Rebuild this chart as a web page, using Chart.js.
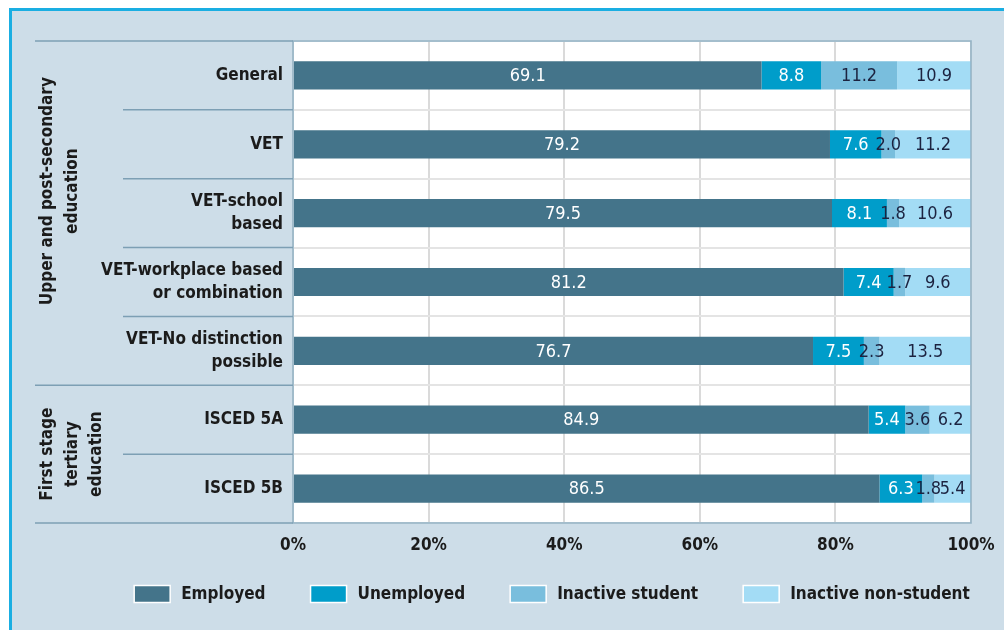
<!DOCTYPE html>
<html>
<head>
<meta charset="utf-8">
<script src="https://cdn.jsdelivr.net/npm/chart.js@4/dist/chart.umd.min.js"></script>
<style>
  html, body { margin: 0; padding: 0; background: #fff; }
  #wrap { position: relative; width: 1004px; height: 630px; overflow: hidden; }
  #frame { position: absolute; left: 9px; top: 8px; width: 1010px; height: 640px;
           background: #cddde8; border-left: 3px solid #1aaee2; border-top: 3px solid #1aaee2; }
  canvas { position: absolute; left: 0; top: 0; }
</style>
</head>
<body>
<div id="wrap">
  <div id="frame"></div>
  <canvas id="chart" width="1004" height="630"></canvas>
</div>
<script>
// data
const categories = [
  ['General'],
  ['VET'],
  ['VET-school', 'based'],
  ['VET-workplace based', 'or combination'],
  ['VET-No distinction', 'possible'],
  ['ISCED 5A'],
  ['ISCED 5B']
];
const groupLabels = [
  ['Upper and post-secondary', 'education'],
  ['First stage', 'tertiary', 'education']
];
const groupStart = [0, 5];
const groupEnd = [4, 6];

const seriesNames = ['Employed', 'Unemployed', 'Inactive student', 'Inactive non-student'];
const employed = [69.1, 79.2, 79.5, 81.2, 76.7, 84.9, 86.5];
const unemployed = [8.8, 7.6, 8.1, 7.4, 7.5, 5.4, 6.3];
const inactiveStudent = [11.2, 2.0, 1.8, 1.7, 2.3, 3.6, 1.8];
const inactiveNonStudent = [10.9, 11.2, 10.6, 9.6, 13.5, 6.2, 5.4];
const xTicks = [0, 20, 40, 60, 80, 100];

const colors = ['#44748a', '#009dca', '#79bedd', '#a3dcf5'];
const FONT = "'Liberation Sans Narrow', 'DejaVu Sans Condensed', 'Arial Narrow', sans-serif";

// plugins
const plotBackground = {
  id: 'plotBackground',
  beforeDraw(chart) {
    const a = chart.chartArea, ctx = chart.ctx;
    ctx.save();
    ctx.fillStyle = '#ffffff';
    ctx.fillRect(a.left, a.top, a.right - a.left, a.bottom - a.top);
    ctx.restore();
  }
};

const barLabels = {
  id: 'barLabels',
  afterDatasetsDraw(chart) {
    const ctx = chart.ctx;
    ctx.save();
    ctx.font = '18px ' + FONT;
    ctx.textAlign = 'center';
    ctx.textBaseline = 'middle';
    chart.data.datasets.forEach((ds, i) => {
      chart.getDatasetMeta(i).data.forEach((bar, j) => {
        const p = bar.getCenterPoint();
        ctx.fillStyle = i < 2 ? '#ffffff' : '#1c2340';
        ctx.fillText(ds.data[j].toFixed(1), p.x, p.y + 1);
      });
    });
    ctx.restore();
  }
};

const frameAndGroups = {
  id: 'frameAndGroups',
  afterDraw(chart) {
    const ctx = chart.ctx, a = chart.chartArea, y = chart.scales.y;
    const half = (y.getPixelForValue(1) - y.getPixelForValue(0)) / 2;
    ctx.save();
    // plot border
    ctx.strokeStyle = '#8fb1c5';
    ctx.lineWidth = 1.5;
    ctx.strokeRect(a.left, a.top, a.right - a.left, a.bottom - a.top);
    // separators in label area
    ctx.strokeStyle = '#7d9fb4';
    for (let i = 0; i <= categories.length; i++) {
      const py = y.getPixelForValue(i) - half;
      const major = groupStart.includes(i) || i === categories.length;
      ctx.beginPath();
      ctx.moveTo(major ? 35 : 123, py);
      ctx.lineTo(a.left, py);
      ctx.stroke();
    }
    // group labels
    ctx.fillStyle = '#1b1b1b';
    ctx.font = 'bold 17px ' + FONT;
    ctx.textAlign = 'center';
    ctx.textBaseline = 'middle';
    groupLabels.forEach((lines, g) => {
      const top = y.getPixelForValue(groupStart[g]) - half;
      const bottom = y.getPixelForValue(groupEnd[g]) + half;
      const cy = (top + bottom) / 2 - (g === 0 ? 22 : 0);
      ctx.save();
      ctx.translate(48, cy);
      ctx.rotate(-Math.PI / 2);
      lines.forEach((l, k) => ctx.fillText(l, 0, k * 24.5));
      ctx.restore();
    });
    // legend
    ctx.font = 'bold 17px ' + FONT;
    ctx.textAlign = 'left';
    const gapBox = 11, gapItem = 45, boxW = 36, boxH = 17;
    const widths = seriesNames.map(n => boxW + gapBox + ctx.measureText(n).width);
    const total = widths.reduce((s, w) => s + w, 0) + gapItem * (widths.length - 1);
    let lx = 552 - total / 2;
    const ly = 594;
    seriesNames.forEach((n, i) => {
      ctx.fillStyle = colors[i];
      ctx.fillRect(lx, ly - boxH / 2, boxW, boxH);
      ctx.strokeStyle = '#ffffff';
      ctx.lineWidth = 1.5;
      ctx.strokeRect(lx, ly - boxH / 2, boxW, boxH);
      ctx.fillStyle = '#1b1b1b';
      ctx.fillText(n, lx + boxW + gapBox, ly + 1);
      lx += widths[i] + gapItem;
    });
    ctx.restore();
  }
};

// chart
new Chart(document.getElementById('chart'), {
  type: 'bar',
  data: {
    labels: categories,
    datasets: [
      { label: seriesNames[0], data: employed, backgroundColor: colors[0] },
      { label: seriesNames[1], data: unemployed, backgroundColor: colors[1] },
      { label: seriesNames[2], data: inactiveStudent, backgroundColor: colors[2] },
      { label: seriesNames[3], data: inactiveNonStudent, backgroundColor: colors[3] }
    ]
  },
  options: {
    indexAxis: 'y',
    responsive: false,
    animation: false,
    layout: { padding: { left: 0, right: 33, top: 41, bottom: 74 } },
    datasets: { bar: { categoryPercentage: 1, barPercentage: 0.41, borderWidth: 0 } },
    plugins: { legend: { display: false }, tooltip: { enabled: false } },
    scales: {
      x: {
        stacked: true,
        min: 0,
        max: 100,
        afterBuildTicks(scale) { scale.ticks = xTicks.map(v => ({ value: v })); },
        afterFit(scale) {
          scale.height = 33;
          scale.paddingLeft = 0;
          scale.paddingRight = 0;
        },
        grid: { color: '#dadada', lineWidth: 2, drawTicks: false },
        border: { display: false },
        ticks: {
          padding: 12,
          color: '#1b1b1b',
          font: { family: FONT, size: 17, weight: 'bold' },
          callback: v => v + '%'
        }
      },
      y: {
        stacked: true,
        afterFit(scale) { scale.width = 293; },
        grid: { color: '#e4e4e4', lineWidth: 2, drawTicks: false, offset: true },
        border: { display: false },
        ticks: {
          padding: 10,
          color: '#1b1b1b',
          font: { family: FONT, size: 17, weight: 'bold', lineHeight: 1.35 }
        }
      }
    }
  },
  plugins: [plotBackground, barLabels, frameAndGroups]
});
</script>
</body>
</html>
